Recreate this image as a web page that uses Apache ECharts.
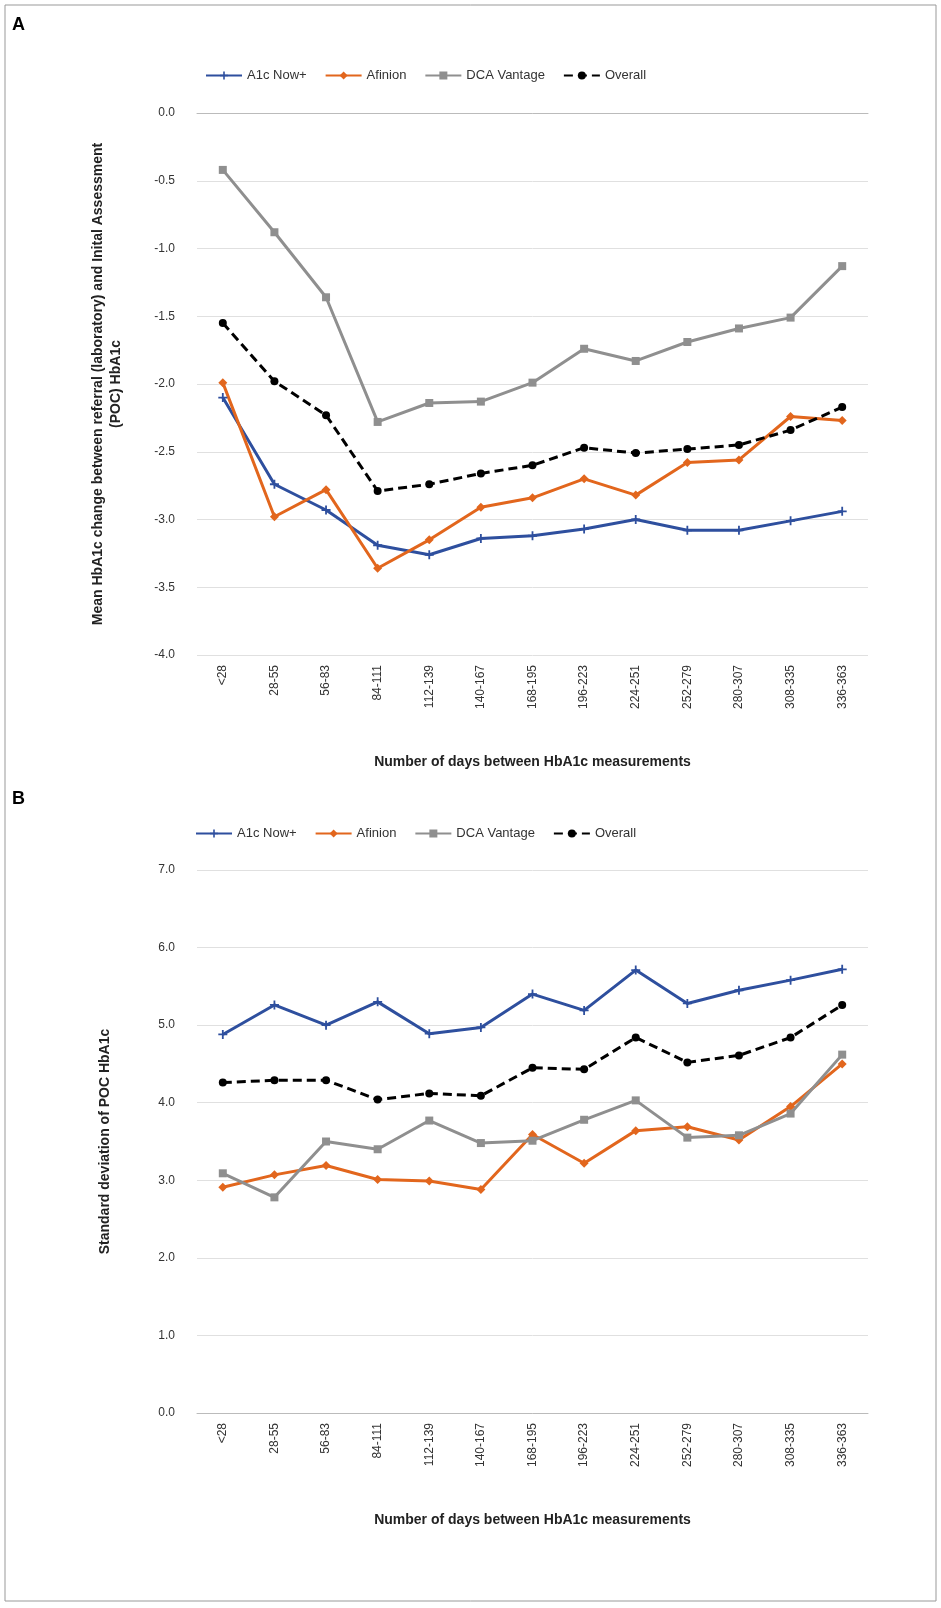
<!DOCTYPE html>
<html><head><meta charset="utf-8">
<script src="https://cdn.jsdelivr.net/npm/echarts@6/dist/echarts.min.js"></script>
<style>body{margin:0;background:#fff}#c{width:941px;height:1608px}</style>
</head><body><div id="c"></div>
<script>
const categories = ['<28','28-55','56-83','84-111','112-139','140-167','168-195','196-223','224-251','252-279','280-307','308-335','336-363'];
// panel A: mean change
const meanA1c = [-2.10,-2.74,-2.93,-3.19,-3.26,-3.14,-3.12,-3.07,-3.00,-3.08,-3.08,-3.01,-2.94];
const meanAfinion = [-1.99,-2.98,-2.78,-3.36,-3.15,-2.91,-2.84,-2.70,-2.82,-2.58,-2.56,-2.24,-2.27];
const meanDca = [-0.42,-0.88,-1.36,-2.28,-2.14,-2.13,-1.99,-1.74,-1.83,-1.69,-1.59,-1.51,-1.13];
const meanOverall = [-1.55,-1.98,-2.23,-2.79,-2.74,-2.66,-2.60,-2.47,-2.51,-2.48,-2.45,-2.34,-2.17];
// panel B: standard deviation
const sdA1c = [4.88,5.26,5.00,5.30,4.89,4.97,5.40,5.19,5.71,5.28,5.45,5.58,5.72];
const sdAfinion = [2.91,3.07,3.19,3.01,2.99,2.88,3.59,3.22,3.64,3.69,3.52,3.95,4.50];
const sdDca = [3.09,2.78,3.50,3.40,3.77,3.48,3.51,3.78,4.03,3.55,3.58,3.86,4.62];
const sdOverall = [4.26,4.29,4.29,4.04,4.12,4.09,4.45,4.43,4.84,4.52,4.61,4.84,5.26];

const plus = 'path://M4,0H6V4H10V6H6V10H4V6H0V4H4Z';
const font = 'Liberation Sans, Arial, sans-serif';
const styles = [
  {name:'A1c Now+', color:'#2E4F9E', symbol:plus, size:9},
  {name:'Afinion', color:'#E2661D', symbol:'diamond', size:9},
  {name:'DCA Vantage', color:'#8F8F8F', symbol:'rect', size:8},
  {name:'Overall', color:'#000', symbol:'circle', size:8, dash:true}
];
function mk(data, s, idx) {
  return {
    name: s.name, type:'line', data, xAxisIndex:idx, yAxisIndex:idx,
    symbol:s.symbol, symbolSize:s.size, showAllSymbol:true, animation:false,
    itemStyle:{color:s.color},
    lineStyle:{color:s.color, width:3, type:s.dash?[9,5]:'solid'}
  };
}
function xAx(idx) {
  return {type:'category', gridIndex:idx, data:categories, boundaryGap:true,
    axisTick:{show:false}, axisLine:{lineStyle:{color:'#bbb'}},
    axisLabel:{rotate:90, color:'#333', fontSize:12, fontFamily:font, margin:10},
    name:'Number of days between HbA1c measurements', nameLocation:'middle', nameGap:100,
    nameTextStyle:{fontWeight:'bold', fontSize:14, color:'#222', fontFamily:font}};
}
const chart = echarts.init(document.getElementById('c'));
chart.setOption({
  animation:false,
  graphic:[
    {type:'rect', shape:{x:5,y:5,width:931,height:1596}, style:{fill:'none',stroke:'#999',lineWidth:1}},
    {type:'text', left:12, top:16, style:{text:'A', font:'bold 18px '+font, fill:'#000'}},
    {type:'text', left:12, top:790, style:{text:'B', font:'bold 18px '+font, fill:'#000'}}
  ],
  legend:[
    {top:64, left:200, itemWidth:36, itemHeight:10, itemGap:18, textStyle:{fontSize:13, fontFamily:font, color:'#333'},
     data:styles.map(s=>s.name)},
    {top:822, left:190, itemWidth:36, itemHeight:10, itemGap:18, textStyle:{fontSize:13, fontFamily:font, color:'#333'},
     data:styles.map(s=>s.name)}
  ],
  grid:[
    {left:197, top:113, width:671, height:542},
    {left:197, top:870, width:671, height:543}
  ],
  xAxis:[xAx(0), xAx(1)],
  yAxis:[
    {type:'value', gridIndex:0, min:-4, max:0, interval:0.5,
     axisLabel:{formatter:v=>v.toFixed(1), color:'#333', fontSize:12, fontFamily:font, margin:22},
     splitLine:{lineStyle:{color:'#e0e0e0'}}, axisLine:{show:false},
     name:'Mean HbA1c change between referral (laboratory) and Inital Assessment\n(POC) HbA1c',
     nameLocation:'middle', nameGap:72, nameTextStyle:{fontWeight:'bold', fontSize:14, color:'#222', fontFamily:font, lineHeight:18}},
    {type:'value', gridIndex:1, min:0, max:7, interval:1,
     axisLabel:{formatter:v=>v.toFixed(1), color:'#333', fontSize:12, fontFamily:font, margin:22},
     splitLine:{lineStyle:{color:'#e0e0e0'}}, axisLine:{show:false},
     name:'Standard deviation of POC HbA1c',
     nameLocation:'middle', nameGap:85, nameTextStyle:{fontWeight:'bold', fontSize:14, color:'#222', fontFamily:font}}
  ],
  series:[
    mk(meanA1c, styles[0], 0), mk(meanAfinion, styles[1], 0), mk(meanDca, styles[2], 0), mk(meanOverall, styles[3], 0),
    mk(sdA1c, styles[0], 1), mk(sdAfinion, styles[1], 1), mk(sdDca, styles[2], 1), mk(sdOverall, styles[3], 1)
  ]
});
</script></body></html>
